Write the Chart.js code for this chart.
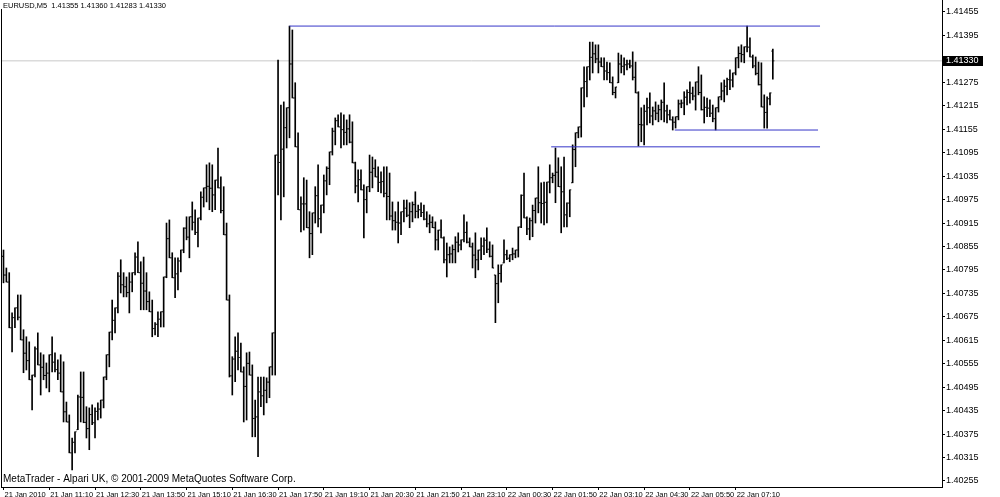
<!DOCTYPE html>
<html>
<head>
<meta charset="utf-8">
<script src="https://cdn.jsdelivr.net/npm/chart.js@4.4.1/dist/chart.umd.min.js"></script>
<style>
  html, body { margin: 0; padding: 0; background: #fff; }
  #wrap { width: 1000px; height: 497px; }
</style>
</head>
<body>
<div id="wrap"><canvas id="chart" width="1000" height="497"></canvas></div>
<script>
// ==================== DATA (EURUSD M5) ====================
const symbolTitle = 'EURUSD,M5  1.41355 1.41360 1.41283 1.41330';
const copyright = 'MetaTrader - Alpari UK, \u00a9 2001-2009 MetaQuotes Software Corp.';

const timeLabels = ['21 Jan 2010', '21 Jan 11:10', '21 Jan 12:30', '21 Jan 13:50', '21 Jan 15:10',
  '21 Jan 16:30', '21 Jan 17:50', '21 Jan 19:10', '21 Jan 20:30', '21 Jan 21:50', '21 Jan 23:10',
  '22 Jan 00:30', '22 Jan 01:50', '22 Jan 03:10', '22 Jan 04:30', '22 Jan 05:50', '22 Jan 07:10'];
const timeTickBars = [0, 16, 32, 48, 64, 80, 96, 112, 128, 144, 160, 176, 192, 208, 224, 240, 256];

const priceTicks = [1.40255, 1.40315, 1.40375, 1.40435, 1.40495, 1.40555, 1.40615, 1.40675,
  1.40735, 1.40795, 1.40855, 1.40915, 1.40975, 1.41035, 1.41095, 1.41155, 1.41215, 1.41275,
  1.41395, 1.41455];

const bidPrice = 1.41330;

// horizontal levels drawn by the trader
const levelPrices = [1.41419, 1.41153, 1.41110];
const levelFrom = [100, 234.7, 191.5];
const levelTo = [285.5, 284.8, 285.5];

const opens = [
1.40830,1.40782,1.40764,1.40647,1.40673,1.40698,1.40674,1.40616,1.40582,1.40563,
1.40514,1.40526,1.40593,1.40552,1.40546,1.40525,1.40531,1.40578,1.40559,1.40540,
1.40531,1.40483,1.40432,1.40406,1.40327,1.40354,1.40386,1.40470,1.40469,1.40405,
1.40389,1.40425,1.40404,1.40433,1.40439,1.40462,1.40521,1.40578,1.40636,1.40666,
1.40698,1.40779,1.40757,1.40752,1.40737,1.40764,1.40788,1.40828,1.40788,1.40761,
1.40741,1.40714,1.40688,1.40645,1.40656,1.40669,1.40688,1.40777,1.40875,1.40826,
1.40775,1.40785,1.40818,1.40846,1.40902,1.40879,1.40931,1.40917,1.40891,1.40928,
1.40981,1.41005,1.41009,1.41004,1.40987,1.41025,1.41005,1.40947,1.40885,1.40718,
1.40524,1.40567,1.40587,1.40571,1.40534,1.40497,1.40556,1.40526,1.40415,1.40419,
1.40483,1.40473,1.40487,1.40508,1.40547,1.40634,1.41089,1.41070,1.41104,1.41159,
1.41210,1.41322,1.41235,1.41110,1.40949,1.40964,1.40964,1.40903,1.40888,1.40941,
1.40985,1.40926,1.40961,1.41023,1.41055,1.41097,1.41150,1.41177,1.41161,1.41154,
1.41147,1.41156,1.41122,1.41069,1.41010,1.41026,1.41000,1.40975,1.41008,1.41045,
1.41055,1.41033,1.41019,1.41021,1.40991,1.40983,1.40933,1.40921,1.40917,1.40915,
1.40944,1.40953,1.40935,1.40944,1.40962,1.40945,1.40949,1.40942,1.40925,1.40913,
1.40917,1.40903,1.40872,1.40897,1.40877,1.40821,1.40834,1.40836,1.40847,1.40866,
1.40859,1.40872,1.40891,1.40866,1.40854,1.40833,1.40821,1.40846,1.40856,1.40871,
1.40848,1.40830,1.40782,1.40760,1.40786,1.40813,1.40834,1.40825,1.40834,1.40836,
1.40846,1.40905,1.40986,1.40928,1.40900,1.40921,1.40947,1.40979,1.40967,1.40965,
1.40968,1.41020,1.41031,1.41037,1.41045,1.41008,1.40995,1.40936,1.40966,1.41018,
1.41103,1.41146,1.41161,1.41261,1.41277,1.41315,1.41339,1.41348,1.41335,1.41327,
1.41315,1.41304,1.41300,1.41274,1.41249,1.41274,1.41322,1.41316,1.41320,1.41322,
1.41317,1.41288,1.41248,1.41167,1.41166,1.41201,1.41210,1.41189,1.41202,1.41196,
1.41205,1.41224,1.41202,1.41192,1.41179,1.41173,1.41187,1.41220,1.41222,
1.41237,1.41249,1.41247,1.41240,1.41276,1.41249,1.41205,1.41211,1.41209,1.41196,
1.41182,1.41210,1.41238,1.41253,1.41265,1.41282,1.41281,1.41299,1.41338,1.41349,
1.41346,1.41366,1.41365,1.41340,1.41317,1.41298,1.41269,1.41212,1.41198,1.41233,
1.41355];

const highs = [
1.40846,1.40800,1.40788,1.40685,1.40698,1.40731,1.40731,1.40642,1.40624,1.40611,
1.40526,1.40598,1.40634,1.40583,1.40578,1.40557,1.40578,1.40624,1.40583,1.40565,
1.40578,1.40560,1.40457,1.40424,1.40365,1.40381,1.40475,1.40534,1.40534,1.40445,
1.40442,1.40450,1.40442,1.40455,1.40462,1.40521,1.40578,1.40636,1.40718,1.40698,
1.40788,1.40821,1.40788,1.40777,1.40788,1.40788,1.40839,1.40867,1.40816,1.40828,
1.40788,1.40739,1.40718,1.40660,1.40688,1.40688,1.40777,1.40915,1.40923,1.40839,
1.40826,1.40826,1.40846,1.40903,1.40931,1.40931,1.40969,1.40949,1.40928,1.40995,
1.41005,1.41064,1.41069,1.41064,1.41025,1.41107,1.41033,1.41008,1.40915,1.40731,
1.40573,1.40624,1.40634,1.40608,1.40547,1.40583,1.40585,1.40552,1.40462,1.40521,
1.40521,1.40521,1.40519,1.40547,1.40634,1.41089,1.41332,1.41217,1.41225,1.41210,
1.41419,1.41409,1.41274,1.41146,1.40982,1.41031,1.41025,1.40944,1.40941,1.41008,
1.41064,1.40961,1.41038,1.41059,1.41097,1.41158,1.41184,1.41192,1.41197,1.41192,
1.41179,1.41192,1.41174,1.41071,1.41051,1.41051,1.41013,1.41008,1.41089,1.41084,
1.41077,1.41059,1.41046,1.41059,1.41059,1.41043,1.40969,1.40944,1.40969,1.40944,
1.40974,1.40974,1.40967,1.40969,1.40995,1.40961,1.40967,1.40961,1.40944,1.40936,
1.40931,1.40918,1.40897,1.40923,1.40880,1.40864,1.40854,1.40859,1.40880,1.40890,
1.40872,1.40936,1.40918,1.40877,1.40864,1.40890,1.40846,1.40877,1.40877,1.40903,
1.40867,1.40859,1.40782,1.40808,1.40808,1.40872,1.40846,1.40834,1.40851,1.40846,
1.40905,1.40987,1.41043,1.40931,1.40928,1.40961,1.40979,1.41059,1.41018,1.41020,
1.41020,1.41064,1.41043,1.41107,1.41082,1.41059,1.41084,1.40967,1.41000,1.41115,
1.41146,1.41161,1.41261,1.41315,1.41315,1.41378,1.41378,1.41371,1.41371,1.41338,
1.41338,1.41327,1.41325,1.41289,1.41263,1.41350,1.41345,1.41338,1.41332,1.41332,
1.41353,1.41327,1.41251,1.41210,1.41217,1.41235,1.41248,1.41212,1.41225,1.41217,
1.41230,1.41274,1.41217,1.41204,1.41187,1.41187,1.41230,1.41230,1.41251,
1.41256,1.41276,1.41263,1.41276,1.41315,1.41294,1.41238,1.41235,1.41230,1.41217,
1.41210,1.41238,1.41274,1.41281,1.41286,1.41307,1.41299,1.41338,1.41366,1.41371,
1.41366,1.41419,1.41389,1.41345,1.41340,1.41327,1.41325,1.41243,1.41238,1.41248,
1.41360];

const lows = [
1.40762,1.40764,1.40647,1.40585,1.40647,1.40667,1.40616,1.40532,1.40539,1.40514,
1.40437,1.40521,1.40552,1.40475,1.40514,1.40493,1.40483,1.40534,1.40534,1.40514,
1.40483,1.40406,1.40406,1.40327,1.40283,1.40327,1.40386,1.40406,1.40404,1.40365,
1.40335,1.40399,1.40365,1.40411,1.40416,1.40442,1.40514,1.40547,1.40616,1.40634,
1.40685,1.40736,1.40726,1.40726,1.40685,1.40739,1.40782,1.40788,1.40693,1.40693,
1.40693,1.40688,1.40624,1.40629,1.40624,1.40649,1.40649,1.40775,1.40826,1.40775,
1.40724,1.40744,1.40790,1.40839,1.40872,1.40826,1.40897,1.40885,1.40854,1.40923,
1.40956,1.40969,1.40949,1.40944,1.40949,1.41005,1.40941,1.40885,1.40718,1.40521,
1.40475,1.40509,1.40539,1.40534,1.40406,1.40411,1.40526,1.40368,1.40368,1.40317,
1.40445,1.40424,1.40455,1.40468,1.40526,1.40526,1.40987,1.40923,1.40982,1.41107,
1.41133,1.41235,1.41110,1.40949,1.40892,1.40897,1.40903,1.40826,1.40834,1.40915,
1.40905,1.40890,1.40941,1.40987,1.41013,1.41089,1.41115,1.41161,1.41107,1.41115,
1.41115,1.41120,1.41069,1.40992,1.40969,1.41000,1.40877,1.40941,1.40995,1.41005,
1.41033,1.40995,1.40992,1.40982,1.40923,1.40923,1.40897,1.40897,1.40864,1.40885,
1.40918,1.40931,1.40903,1.40918,1.40928,1.40928,1.40931,1.40923,1.40905,1.40890,
1.40903,1.40846,1.40846,1.40877,1.40813,1.40777,1.40813,1.40813,1.40813,1.40841,
1.40846,1.40867,1.40864,1.40854,1.40800,1.40775,1.40795,1.40821,1.40834,1.40839,
1.40828,1.40800,1.40660,1.40711,1.40764,1.40813,1.40821,1.40816,1.40821,1.40826,
1.40828,1.40903,1.40928,1.40885,1.40872,1.40880,1.40915,1.40941,1.40915,1.40910,
1.40915,1.40992,1.41018,1.40967,1.41008,1.40890,1.40905,1.40905,1.40931,1.41018,
1.41059,1.41133,1.41135,1.41212,1.41238,1.41281,1.41299,1.41325,1.41299,1.41315,
1.41281,1.41281,1.41274,1.41243,1.41235,1.41274,1.41299,1.41294,1.41307,1.41312,
1.41281,1.41248,1.41112,1.41123,1.41115,1.41166,1.41171,1.41166,1.41179,1.41174,
1.41179,1.41174,1.41171,1.41179,1.41153,1.41158,1.41179,1.41210,1.41192,
1.41217,1.41222,1.41230,1.41204,1.41243,1.41204,1.41171,1.41187,1.41187,1.41174,
1.41153,1.41199,1.41230,1.41225,1.41243,1.41256,1.41263,1.41294,1.41312,1.41327,
1.41325,1.41353,1.41340,1.41312,1.41294,1.41268,1.41212,1.41158,1.41158,1.41217,
1.41283];

const closes = [
1.40782,1.40764,1.40647,1.40673,1.40698,1.40674,1.40616,1.40582,1.40563,1.40514,
1.40526,1.40593,1.40552,1.40546,1.40525,1.40531,1.40578,1.40559,1.40540,1.40531,
1.40483,1.40432,1.40406,1.40327,1.40354,1.40381,1.40470,1.40469,1.40405,1.40389,
1.40425,1.40404,1.40433,1.40439,1.40462,1.40521,1.40578,1.40636,1.40666,1.40698,
1.40779,1.40757,1.40752,1.40737,1.40764,1.40788,1.40828,1.40788,1.40761,1.40741,
1.40714,1.40688,1.40645,1.40656,1.40669,1.40688,1.40777,1.40875,1.40826,1.40775,
1.40785,1.40818,1.40846,1.40902,1.40879,1.40931,1.40917,1.40891,1.40928,1.40981,
1.41005,1.41009,1.41004,1.40987,1.41025,1.41005,1.40947,1.40885,1.40718,1.40524,
1.40567,1.40587,1.40571,1.40534,1.40497,1.40556,1.40526,1.40415,1.40419,1.40483,
1.40473,1.40487,1.40508,1.40547,1.40634,1.41089,1.41070,1.41104,1.41159,1.41210,
1.41322,1.41235,1.41110,1.40949,1.40964,1.40964,1.40903,1.40888,1.40941,1.40985,
1.40926,1.40961,1.41023,1.41055,1.41097,1.41150,1.41177,1.41161,1.41154,1.41147,
1.41156,1.41122,1.41069,1.41010,1.41026,1.41000,1.40975,1.41008,1.41045,1.41055,
1.41033,1.41019,1.41021,1.40991,1.40983,1.40933,1.40921,1.40917,1.40915,1.40944,
1.40953,1.40935,1.40944,1.40962,1.40945,1.40949,1.40942,1.40925,1.40913,1.40917,
1.40903,1.40872,1.40897,1.40877,1.40821,1.40834,1.40836,1.40847,1.40866,1.40859,
1.40872,1.40891,1.40866,1.40854,1.40833,1.40821,1.40846,1.40856,1.40871,1.40848,
1.40830,1.40800,1.40760,1.40786,1.40808,1.40834,1.40825,1.40834,1.40836,1.40846,
1.40905,1.40986,1.40928,1.40900,1.40921,1.40947,1.40979,1.40967,1.40965,1.40968,
1.41020,1.41031,1.41037,1.41045,1.41008,1.40995,1.40936,1.40966,1.41000,1.41103,
1.41146,1.41161,1.41261,1.41277,1.41315,1.41339,1.41348,1.41335,1.41327,1.41315,
1.41304,1.41300,1.41274,1.41249,1.41263,1.41322,1.41316,1.41320,1.41322,1.41317,
1.41288,1.41248,1.41167,1.41166,1.41201,1.41210,1.41189,1.41202,1.41196,1.41205,
1.41224,1.41202,1.41192,1.41179,1.41173,1.41187,1.41220,1.41222,1.41237,
1.41249,1.41247,1.41240,1.41276,1.41249,1.41205,1.41211,1.41209,1.41196,1.41182,
1.41210,1.41238,1.41253,1.41265,1.41282,1.41281,1.41299,1.41338,1.41349,1.41346,
1.41366,1.41365,1.41340,1.41317,1.41298,1.41269,1.41212,1.41198,1.41233,1.41248,
1.41330];

// ==================== LAYOUT ====================
const FONT = "'Liberation Sans', Arial, sans-serif";
const X_MIN = -0.874, X_MAX = 328.15;       // bar index range shown (right side left empty)
const Y_MIN = 1.402396, Y_MAX = 1.414857;

// ==================== PLUGINS ====================
// open / close ticks on each bar
const ohlcTicks = {
  id: 'ohlcTicks',
  afterDatasetsDraw(chart) {
    const { ctx, scales: { x, y } } = chart;
    ctx.save();
    ctx.fillStyle = '#000';
    for (let i = 0; i < opens.length; i++) {
      const px = x.getPixelForValue(i);
      ctx.fillRect(px - 1.5, y.getPixelForValue(opens[i]) - 0.5, 1, 1);
      ctx.fillRect(px + 0.5, y.getPixelForValue(closes[i]) - 0.5, 1, 1);
    }
    ctx.restore();
  }
};

// window texts, left border and bid price box
const terminalFrame = {
  id: 'terminalFrame',
  afterDraw(chart) {
    const { ctx, chartArea, scales: { y } } = chart;
    ctx.save();
    ctx.fillStyle = '#000';
    ctx.fillRect(1, 9, 1, chartArea.bottom - 9);

    ctx.textBaseline = 'middle';
    ctx.textAlign = 'left';
    ctx.font = '7.5px ' + FONT;
    ctx.fillText(symbolTitle, 3, 6);
    ctx.font = '10px ' + FONT;
    ctx.fillText(copyright, 3, 479);

    const by = Math.round(y.getPixelForValue(bidPrice));
    ctx.fillRect(chartArea.right + 1, by - 5, 40, 10);
    ctx.fillStyle = '#fff';
    ctx.font = '9px ' + FONT;
    ctx.fillText(bidPrice.toFixed(5), chartArea.right + 4, by);
    ctx.restore();
  }
};

// ==================== CHART ====================
const bars = highs.map((h, i) => ({ x: i, y: [lows[i], h] }));

const levelSets = levelPrices.map((p, i) => ({
  type: 'line',
  data: [{ x: levelFrom[i], y: p }, { x: levelTo[i], y: p }],
  borderColor: '#3535c8',
  backgroundColor: '#3535c8',
  borderWidth: 1,
  pointRadius: 0,
  fill: false,
  order: 0
}));

new Chart(document.getElementById('chart'), {
  type: 'bar',
  data: {
    datasets: [
      {
        type: 'line',
        data: [{ x: X_MIN, y: bidPrice }, { x: X_MAX, y: bidPrice }],
        borderColor: '#c8c8c8',
        borderWidth: 1,
        pointRadius: 0,
        fill: false,
        order: 3
      },
      {
        type: 'bar',
        data: bars,
        backgroundColor: '#000',
        borderWidth: 0,
        barThickness: 1,
        grouped: false,
        order: 1
      },
      ...levelSets
    ]
  },
  options: {
    responsive: false,
    devicePixelRatio: 1,
    animation: false,
    layout: { padding: { left: 1, top: 0, right: 0, bottom: 0 } },
    plugins: { legend: { display: false }, tooltip: { enabled: false } },
    scales: {
      x: {
        type: 'linear',
        min: X_MIN,
        max: X_MAX,
        offset: false,
        grid: { display: true, drawOnChartArea: false, drawTicks: true, tickLength: 3, color: '#000', offset: false },
        border: { display: true, color: '#000' },
        ticks: {
          autoSkip: false, maxRotation: 0, minRotation: 0,
          align: 'start', padding: 0, labelOffset: 1,
          color: '#000', font: { family: FONT, size: 7.5 },
          callback: (v, i) => timeLabels[i]
        },
        afterBuildTicks: s => { s.ticks = timeTickBars.map(v => ({ value: v })); },
        afterFit: s => { s.height = 10; s.paddingLeft = 0; s.paddingRight = 0; }
      },
      y: {
        type: 'linear',
        position: 'right',
        min: Y_MIN,
        max: Y_MAX,
        grid: { display: true, drawOnChartArea: false, drawTicks: true, tickLength: 3, color: '#000' },
        border: { display: true, color: '#000' },
        ticks: {
          autoSkip: false, padding: 1,
          color: '#000', font: { family: FONT, size: 9 },
          callback: v => v.toFixed(5)
        },
        afterBuildTicks: s => { s.ticks = priceTicks.map(v => ({ value: v })); },
        afterFit: s => { s.width = 58; s.paddingTop = 0; s.paddingBottom = 0; }
      }
    }
  },
  plugins: [ohlcTicks, terminalFrame]
});
</script>
</body>
</html>
